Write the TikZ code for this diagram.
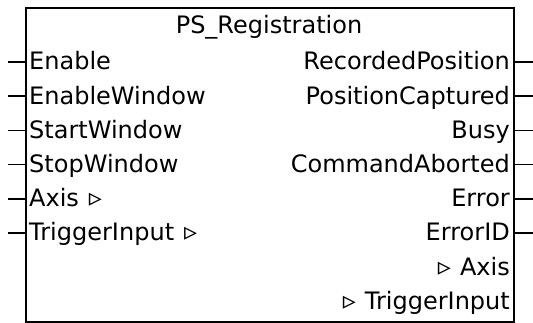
\documentclass[tikz,border=0pt]{standalone}
\usepackage{fontspec}
\setmainfont{DejaVu Sans}
% small outlined triangle marking reference pins
\newcommand{\reftri}{{\fontsize{26}{26}\selectfont ▹}}
\begin{document}
\begin{tikzpicture}[x=1pt,y=-1pt,
  pinlabel/.style={inner sep=0pt, font=\fontsize{24}{24}\selectfont},
  stub/.style={line width=1.6pt},
  fbox/.style={draw, line width=1.6pt, inner sep=0pt, anchor=north west,
               minimum width=488pt, minimum height=314pt}]
\useasboundingbox[fill=white] (0,0) rectangle (533,323);
% function block body
\node[fbox] (fb) at (25,7) {};
\node[pinlabel, anchor=base] (title) at (269,34) {PS\_Registration};
% inputs with pin stubs
\foreach \name/\txt [count=\k from 0] in {Enable/Enable, EnableWindow/EnableWindow,
    StartWindow/StartWindow, StopWindow/StopWindow} {
  \pgfmathsetmacro\yy{62+34.2*\k}
  \node[pinlabel, anchor=base west] (in\name) at (29,{\yy+8}) {\txt};
  \coordinate (ie\name) at (8,\yy);
  \draw[stub] (ie\name) -- (ie\name -| fb.west);
}
\foreach \name/\txt [count=\k from 4] in {Axis/Axis, Trigger/TriggerInput} {
  \pgfmathsetmacro\yy{62+34.2*\k}
  \node[pinlabel, anchor=base west] (in\name) at (29,{\yy+8}) {\txt\hspace{10pt}\reftri};
  \coordinate (ie\name) at (8,\yy);
  \draw[stub] (ie\name) -- (ie\name -| fb.west);
}
% outputs with pin stubs
\foreach \name/\txt [count=\k from 0] in {RecPos/RecordedPosition, PosCap/PositionCaptured,
    Busy/Busy, CmdAb/CommandAborted, Error/Error, ErrorID/ErrorID} {
  \pgfmathsetmacro\yy{62+34.2*\k}
  \node[pinlabel, anchor=base east] (out\name) at (510,{\yy+8}) {\txt};
  \coordinate (oe\name) at (533,\yy);
  \draw[stub] (oe\name -| fb.east) -- (oe\name);
}
% in-out references (no stubs)
\node[pinlabel, anchor=base east] (ioAxis) at (510,{62+34.2*6+8}) {\reftri\hspace{9pt}Axis};
\node[pinlabel, anchor=base east] (ioTrigger) at (510,{62+34.2*7+8}) {\reftri\hspace{9pt}TriggerInput};
\end{tikzpicture}
\end{document}
